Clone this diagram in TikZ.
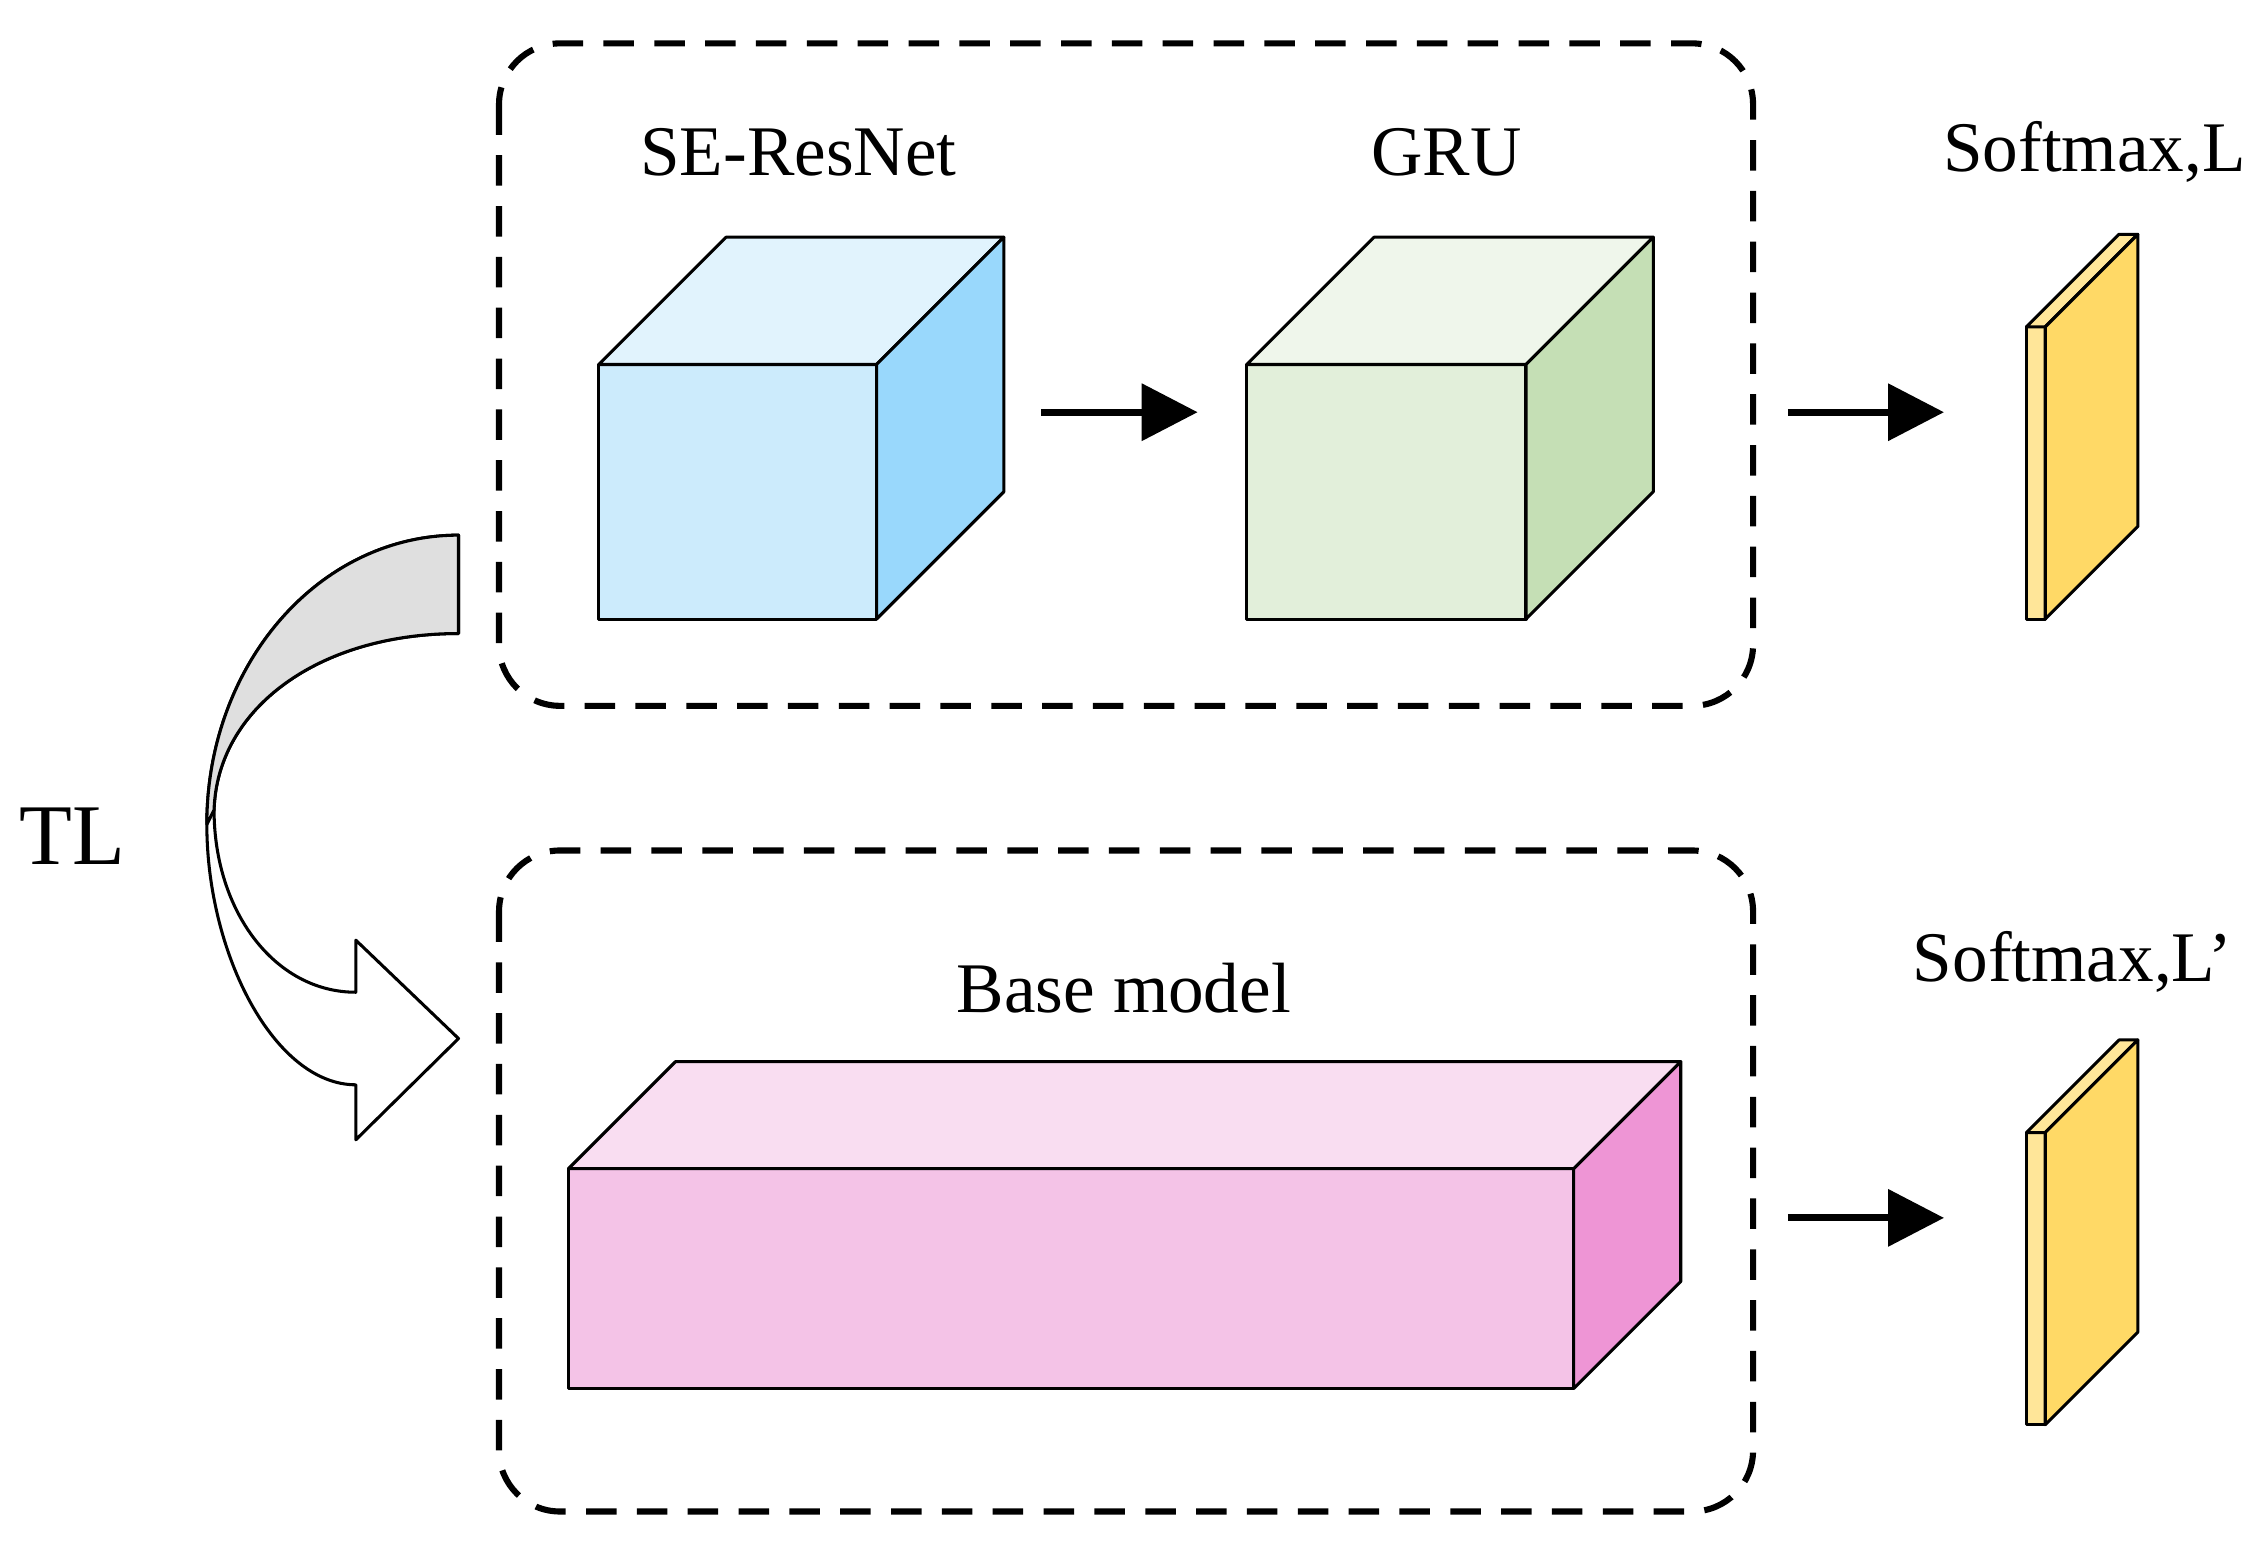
\documentclass[tikz,border=0pt]{standalone}
\usepackage{fontspec}
\setmainfont{Liberation Serif}
\usetikzlibrary{arrows.meta,positioning}

\definecolor{seFront}{HTML}{CCEBFC}
\definecolor{seTop}{HTML}{E1F3FD}
\definecolor{seSide}{HTML}{99D8FC}
\definecolor{gruFront}{HTML}{E2EFDA}
\definecolor{gruTop}{HTML}{EFF6EB}
\definecolor{gruSide}{HTML}{C5DFB5}
\definecolor{baseFront}{HTML}{F4C3E7}
\definecolor{baseTop}{HTML}{F9DDF1}
\definecolor{baseSide}{HTML}{EE95D5}
\definecolor{smFront}{HTML}{FFE699}
\definecolor{smSide}{HTML}{FFD966}

% box: x, y (front top-left), width, height, depth, front, top, side
\newcommand{\drawbox}[8]{%
  \draw[face, fill=#6] (#1,#2) rectangle ++(#3,#4);
  \draw[face, fill=#7] (#1,#2) -- ++(#5,-#5) -- ++(#3,0) -- ++(-#5,#5) -- cycle;
  \draw[face, fill=#8] (#1+#3,#2) -- ++(#5,-#5) -- ++(0,#4) -- ++(-#5,#5) -- cycle;
}

\begin{document}
\begin{tikzpicture}[
    x=0.1mm, y=-0.1mm,
    face/.style={draw=black, line width=0.6pt, line join=round},
    group/.style={draw, dashed, line width=1.2pt, rounded corners=12pt, dash pattern=on 6pt off 4pt},
    label/.style={font=\fontsize{14}{16}\selectfont},
    flow/.style={-{Triangle[length=11pt,width=11pt]}, line width=1.4pt}
]
    \useasboundingbox (0,0) rectangle (1568,1071);

    % groups
    \draw[group] (345,30) rectangle (1212,488);
    \draw[group] (345,588) rectangle (1212,1045);

    % blocks
    \drawbox{414}{252}{192}{176}{88}{seFront}{seTop}{seSide}
    \drawbox{862}{252}{193}{176}{88}{gruFront}{gruTop}{gruSide}
    \drawbox{393}{808}{695}{152}{74}{baseFront}{baseTop}{baseSide}
    \drawbox{1401}{226}{13}{202}{64}{smFront}{smFront}{smSide}
    \drawbox{1401}{783}{13}{202}{64}{smFront}{smFront}{smSide}

    % labels
    \node[label] (seres) at (552,105) {SE-ResNet};
    \node[label] (gru) at (1000,105) {GRU};
    \node[label] (smax) at (1448,105) {Softmax,L};
    \node[label] (base) at (777,683) {Base model};
    \node[label] (smaxb) at (1433,665) {Softmax,L’};
    \node[font=\fontsize{17}{20}\selectfont] (tl) at (50,578) {TL};

    % arrows
    \coordinate (a1) at (720,285);  \coordinate (b1) at (828,285);
    \coordinate (a2) at (1236,285); \coordinate (b2) at (1344,285);
    \coordinate (a3) at (1236,842); \coordinate (b3) at (1344,842);
    \draw[flow] (a1) -- (b1);
    \draw[flow] (a2) -- (b2);
    \draw[flow] (a3) -- (b3);

    % transfer arrow
    \draw[face, fill=white] (317,370) .. controls (220,370) and (143,460) .. (143,570)
        .. controls (143,660) and (190,750) .. (246,750) -- (246,788) -- (317,718)
        -- (246,650) -- (246,686) .. controls (190,686) and (148,630) .. (148,560)
        .. controls (150,490) and (220,438) .. (317,438) -- cycle;
    \draw[face, fill=gray!25] (317,370) .. controls (220,370) and (143,460) .. (143,570)
        -- (148,560) .. controls (150,490) and (220,438) .. (317,438) -- cycle;
\end{tikzpicture}
\end{document}
